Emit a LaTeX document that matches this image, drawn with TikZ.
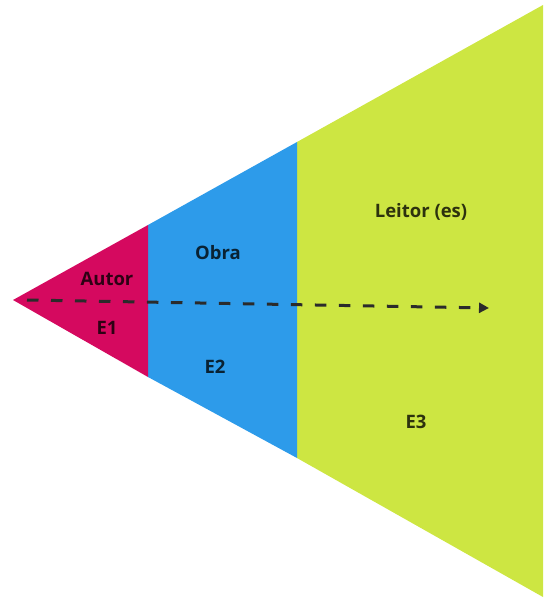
\documentclass[tikz,border=0pt]{standalone}
\usepackage{fontspec}
\setmainfont{Open Sans}
\usetikzlibrary{arrows.meta}
\definecolor{autorc}{HTML}{D5095F}
\definecolor{obrac}{HTML}{2D9BEA}
\definecolor{leitorc}{HTML}{CDE642}
\definecolor{flowc}{HTML}{2B2B2B}
\begin{document}
\begin{tikzpicture}[x=1pt,y=-1pt,
  lbl/.style={font=\fontsize{18.5}{22}\selectfont\bfseries, text=black, text opacity=0.78, inner sep=0pt},
  flow/.style={draw=flowc, line width=3pt, dash pattern=on 11.5pt off 12.5pt,
    -{Triangle[length=10pt,width=10pt]}}]
\useasboundingbox (0,0) rectangle (544,607);
% stage bands of the widening wedge
\fill[leitorc] (297,142) -- (543,5) -- (543,597) -- (297,458) -- cycle;
\fill[obrac] (148,225) -- (297,142) -- (297,458) -- (148,377) -- cycle;
\fill[autorc] (13,300) -- (148,225) -- (148,377) -- cycle;
% labels
\node[lbl] (autor) at (107,279) {Autor};
\node[lbl] (e1) at (107,328) {E1};
\node[lbl] (obra) at (218,253) {Obra};
\node[lbl] (e2) at (215,367) {E2};
\node[lbl] (leitor) at (421,212) {Leitor (es)};
\node[lbl] (e3) at (416,422) {E3};
% reading direction
\coordinate (start) at (27,300);
\coordinate (finish) at (489,308);
\draw[flow] (start) -- (finish);
\end{tikzpicture}
\end{document}
